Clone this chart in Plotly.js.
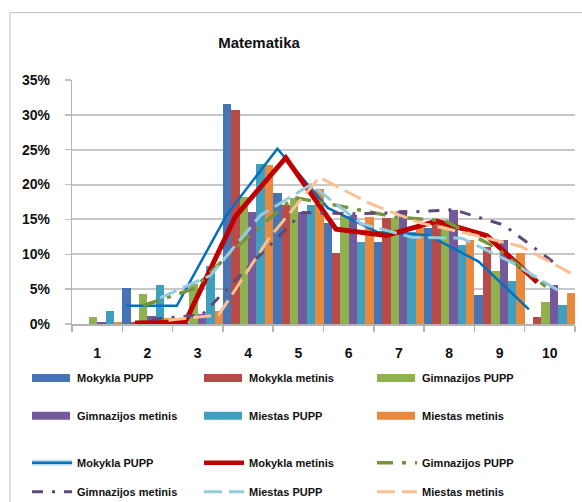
<!DOCTYPE html>
<html>
<head>
<meta charset="utf-8">
<script src="https://cdn.plot.ly/plotly-3.0.1.min.js"></script>
<style>
  html, body { margin: 0; padding: 0; background: #ffffff; }
  #chart { width: 582px; height: 502px; }
</style>
</head>
<body>
<div id="chart"></div>
<script>
// ---- data (percent) ----
const categories = [1, 2, 3, 4, 5, 6, 7, 8, 9, 10];
const tickLabels = ['1', '2', '3', '4', '5', '6', '7', '8', '9', '10'];
const yTickValues = [0, 5, 10, 15, 20, 25, 30, 35];
const yTickLabels = ['0%', '5%', '10%', '15%', '20%', '25%', '30%', '35%'];
const seriesNames = ['Mokykla PUPP', 'Mokykla metinis', 'Gimnazijos PUPP', 'Gimnazijos metinis', 'Miestas PUPP', 'Miestas metinis'];

const mokyklaPUPP      = [0, 5.2, 0, 31.5, 18.8, 14.5, 11.8, 13.7, 4.2, 0];
const mokyklaMetinis   = [0, 0.3, 0.2, 30.7, 17.0, 10.2, 15.2, 14.3, 11.0, 1.0];
const gimnazijosPUPP   = [1.0, 4.3, 5.8, 18.2, 18.1, 15.5, 15.2, 14.4, 7.6, 3.2];
const gimnazijosMetinis= [0.3, 1.1, 1.5, 16.0, 16.0, 15.6, 16.4, 16.4, 12.0, 5.6];
const miestasPUPP      = [1.9, 5.6, 8.3, 22.9, 17.1, 11.7, 13.2, 11.4, 6.2, 2.7];
const miestasMetinis   = [0.3, 0.8, 1.8, 22.8, 19.3, 15.3, 13.7, 12.1, 10.2, 4.4];

// trend lines (2-period moving average lines)
const mokyklaPUPPLine       = [null, 2.6, 2.6, 15.75, 25.15, 16.65, 13.15, 12.75, 8.95, 2.1];
const mokyklaMetinisLine    = [null, 0.15, 0.25, 15.45, 23.85, 13.6, 12.7, 14.75, 12.65, 6.0];
const gimnazijosPUPPLine    = [null, 2.65, 5.05, 12.0, 18.15, 16.8, 15.35, 14.8, 11.0, 5.4];
const gimnazijosMetinisLine = [null, 0.7, 1.3, 8.75, 16.0, 15.8, 16.0, 16.4, 14.2, 8.8];
const miestasPUPPLine       = [null, 3.75, 6.95, 15.6, 20.0, 14.4, 12.45, 12.3, 8.8, 4.45];
const miestasMetinisLine    = [null, 0.55, 1.3, 12.3, 21.05, 17.3, 14.5, 12.9, 11.15, 7.3];

// ---- styles ----
const barData = [mokyklaPUPP, mokyklaMetinis, gimnazijosPUPP, gimnazijosMetinis, miestasPUPP, miestasMetinis];
const lineData = [mokyklaPUPPLine, mokyklaMetinisLine, gimnazijosPUPPLine, gimnazijosMetinisLine, miestasPUPPLine, miestasMetinisLine];
const barColors = ['#4674B4', '#B84A47', '#90B150', '#74599C', '#409FBD', '#E8893D'];
const lineColors = ['#0070C0', '#C00000', '#77933C', '#5F497A', '#93CDDD', '#FAC090'];
const lineWidths = [2.5, 5, 3.5, 3, 3, 3];
const lineDash = ['solid', 'solid', '16px,9px,4px,9px', '11px,9px,3px,9px', '18px,7px', '18px,7px'];

const FONT = '"Liberation Sans", Arial, sans-serif';
const nSeries = seriesNames.length;

const traces = [];
for (let k = 0; k < nSeries; k++) {
  traces.push({
    type: 'bar', name: seriesNames[k], x: categories, y: barData[k],
    marker: { color: barColors[k], line: { width: 0 } },
    showlegend: false, hoverinfo: 'skip'
  });
}
for (let k = 0; k < nSeries; k++) {
  const off = (k - (nSeries - 1) / 2) / nSeries;
  traces.push({
    type: 'scatter', mode: 'lines', name: seriesNames[k],
    x: categories.map(c => c + off), y: lineData[k],
    line: { color: lineColors[k], width: lineWidths[k], dash: lineDash[k] },
    connectgaps: false, showlegend: false, hoverinfo: 'skip'
  });
}

// ---- layout geometry (pixels -> paper) ----
const W = 582, H = 502;
const L = 72, R = 575, T = 79.5, B = 324;
const px = v => (v - L) / (R - L);
const py = v => (B - v) / (B - T);

const shapes = [];
const annotations = [];
// outer frame
shapes.push({ type: 'rect', xref: 'paper', yref: 'paper', x0: px(10), x1: px(600), y0: py(520), y1: py(12),
  line: { color: '#BDBDBD', width: 1 }, fillcolor: 'rgba(0,0,0,0)', layer: 'below' });

// custom legend
const colX = [32, 204, 377];
const rowY = [378, 416, 463, 492];
const swW = 38;
for (let i = 0; i < 12; i++) {
  const row = Math.floor(i / 3), col = i % 3;
  const k = i % 6;
  const isBar = i < 6;
  const x0 = colX[col], yc = rowY[row];
  if (isBar) {
    shapes.push({ type: 'rect', xref: 'paper', yref: 'paper', x0: px(x0), x1: px(x0 + swW), y0: py(yc + 4), y1: py(yc - 4),
      fillcolor: barColors[k], line: { width: 0 } });
  } else {
    if (k === 0) {
      shapes.push({ type: 'line', xref: 'paper', yref: 'paper', x0: px(x0), x1: px(x0 + swW + 2), y0: py(yc), y1: py(yc),
        line: { color: '#BFDDF2', width: 6 } });
    }
    shapes.push({ type: 'line', xref: 'paper', yref: 'paper', x0: px(x0), x1: px(x0 + swW + 2), y0: py(yc), y1: py(yc),
      line: { color: lineColors[k], width: Math.min(lineWidths[k], 4.5), dash: lineDash[k] } });
  }
  annotations.push({ xref: 'paper', yref: 'paper', x: px(x0 + swW + 5), y: py(yc), xanchor: 'left', yanchor: 'middle',
    text: seriesNames[k], showarrow: false, font: { family: FONT, size: 11, color: '#111111', weight: 'bold' } });
}

const layout = {
  width: W, height: H,
  margin: { l: L, r: W - R, t: T, b: H - B, pad: 0 },
  paper_bgcolor: '#ffffff', plot_bgcolor: '#ffffff',
  barmode: 'group', bargap: 0, bargroupgap: 0,
  title: { text: 'Matematika', x: 259 / W, xref: 'container', xanchor: 'center', y: 1 - 43 / H, yref: 'container', yanchor: 'middle',
    font: { family: FONT, size: 15, color: '#111111', weight: 'bold' } },
  xaxis: {
    range: [0.5, 10.5], tickvals: categories, ticktext: tickLabels, ticks: '',
    showgrid: false, zeroline: false, showline: true, linecolor: '#B3B3B3', linewidth: 1.5,
    ticklabelstandoff: 16,
    tickfont: { family: FONT, size: 14, color: '#111111', weight: 'bold' },
    minor: { tick0: 0.5, dtick: 1, ticks: 'outside', ticklen: 6, tickcolor: '#B3B3B3', tickwidth: 1.5, showgrid: false }
  },
  yaxis: {
    range: [0, 35], tickvals: yTickValues, ticktext: yTickLabels.map(t => t + '\u00a0\u00a0\u00a0'),
    ticks: 'outside', ticklen: 6, tickcolor: '#BFBFBF', tickwidth: 1.5,
    showgrid: true, gridcolor: '#C8C8C8', gridwidth: 2, zeroline: false,
    showline: true, linecolor: '#B3B3B3', linewidth: 1.5,
    tickfont: { family: FONT, size: 14, color: '#111111', weight: 'bold' }
  },
  shapes: shapes,
  annotations: annotations,
  showlegend: false
};

Plotly.newPlot('chart', traces, layout, { staticPlot: true, displayModeBar: false });
</script>
</body>
</html>
